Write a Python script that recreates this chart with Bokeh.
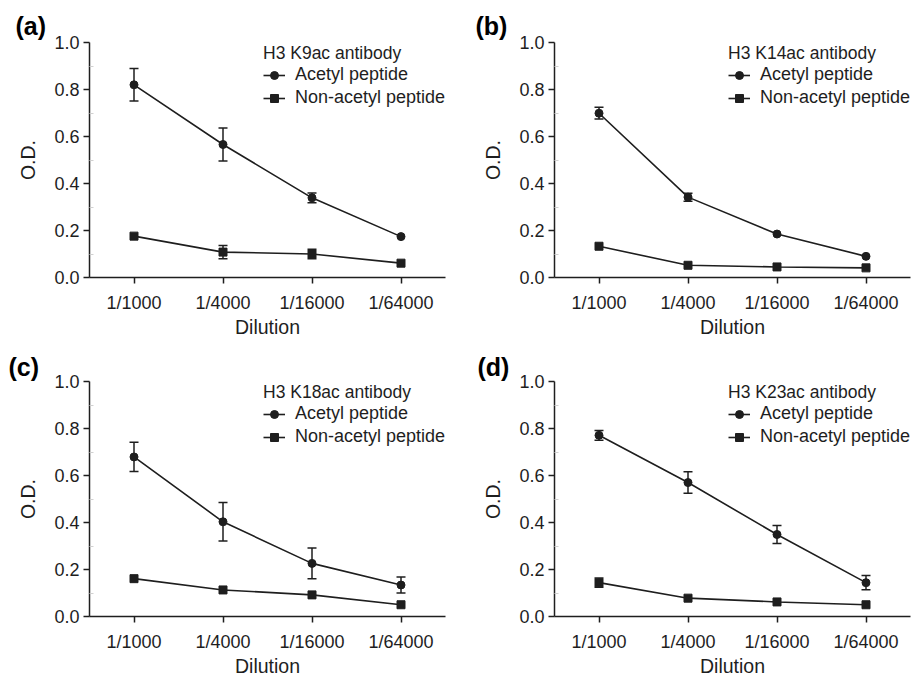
from bokeh.plotting import figure
from bokeh.layouts import column, row
from bokeh.models import Range1d, Whisker, TeeHead, ColumnDataSource, FixedTicker
from bokeh.embed import file_html
from bokeh.resources import INLINE

dilutions = ["1/1000", "1/4000", "1/16000", "1/64000"]
series_names = ["Acetyl peptide", "Non-acetyl peptide"]
y_ticks = [0.0, 0.2, 0.4, 0.6, 0.8, 1.0]

panel_letters = ["(a)", "(b)", "(c)", "(d)"]
antibodies = ["H3 K9ac antibody", "H3 K14ac antibody", "H3 K18ac antibody", "H3 K23ac antibody"]

acetyl_a = [0.820, 0.566, 0.339, 0.174]
acetyl_a_err = [0.069, 0.070, 0.021, 0.0]
nonacetyl_a = [0.176, 0.108, 0.100, 0.061]
nonacetyl_a_err = [0.0, 0.028, 0.020, 0.0]

acetyl_b = [0.699, 0.342, 0.185, 0.090]
acetyl_b_err = [0.025, 0.017, 0.0, 0.0]
nonacetyl_b = [0.133, 0.052, 0.045, 0.041]
nonacetyl_b_err = [0.0, 0.0, 0.0, 0.0]

acetyl_c = [0.679, 0.403, 0.226, 0.134]
acetyl_c_err = [0.062, 0.082, 0.065, 0.034]
nonacetyl_c = [0.161, 0.113, 0.092, 0.050]
nonacetyl_c_err = [0.0, 0.0, 0.0, 0.0]

acetyl_d = [0.771, 0.570, 0.349, 0.144]
acetyl_d_err = [0.021, 0.046, 0.038, 0.030]
nonacetyl_d = [0.144, 0.078, 0.062, 0.050]
nonacetyl_d_err = [0.020, 0.0, 0.0, 0.0]

INK = "#1e1e1e"
FONT = "Liberation Sans"


def make_panel(letter, title, acetyl, acetyl_err, non, non_err,
               width, height, bl, br, bt, bb, letter_offset, letter_standoff):
    p = figure(width=width, height=height, x_range=dilutions, y_range=Range1d(0, 1.0),
               output_backend="svg", toolbar_location=None,
               min_border_left=bl, min_border_right=br, min_border_top=bt, min_border_bottom=bb)
    p.outline_line_color = None
    p.xgrid.grid_line_color = None
    p.ygrid.grid_line_color = None
    p.background_fill_color = "white"
    p.border_fill_color = "white"

    p.title.text = letter
    p.title.align = "left"
    p.title.offset = letter_offset
    p.title.text_font = FONT
    p.title.text_font_size = "25px"
    p.title.text_font_style = "bold"
    p.title.text_color = "black"
    p.title.standoff = letter_standoff
    p.title.vertical_align = "bottom"

    for ax in (p.xaxis[0], p.yaxis[0]):
        ax.axis_line_color = INK
        ax.axis_line_width = 1.5
        ax.major_tick_line_color = INK
        ax.major_tick_line_width = 1.5
        ax.major_tick_out = 6
        ax.major_tick_in = 0
        ax.major_label_text_font = FONT
        ax.major_label_text_font_size = "18px"
        ax.major_label_text_color = INK
        ax.axis_label_text_font = FONT
        ax.axis_label_text_font_size = "19.5px"
        ax.axis_label_text_font_style = "normal"
        ax.axis_label_text_color = INK

    p.xaxis.axis_label = "Dilution"
    p.xaxis.major_label_standoff = 9
    p.xaxis.axis_label_standoff = 0
    p.yaxis.axis_label = "O.D."
    p.yaxis.ticker = FixedTicker(ticks=y_ticks, minor_ticks=[0.1, 0.3, 0.5, 0.7, 0.9])
    p.yaxis.major_label_overrides = {t: f"{t:.1f}" for t in y_ticks}
    p.yaxis.major_label_standoff = 4
    p.yaxis.axis_label_standoff = 12
    p.yaxis.minor_tick_in = 4
    p.yaxis.minor_tick_out = 0
    p.yaxis.minor_tick_line_color = "#d0d0d0"
    p.yaxis.minor_tick_line_width = 1

    for vals, errs, marker, name in ((acetyl, acetyl_err, "circle", series_names[0]),
                                     (non, non_err, "square", series_names[1])):
        xs = [d for d, e in zip(dilutions, errs) if e > 0]
        lo = [v - e for v, e in zip(vals, errs) if e > 0]
        hi = [v + e for v, e in zip(vals, errs) if e > 0]
        if xs:
            src = ColumnDataSource(dict(x=xs, lower=lo, upper=hi))
            w = Whisker(base="x", lower="lower", upper="upper", source=src,
                        line_color=INK, line_width=1.5,
                        upper_head=TeeHead(size=9, line_color=INK, line_width=1.5),
                        lower_head=TeeHead(size=9, line_color=INK, line_width=1.5))
            p.add_layout(w)
        p.line(dilutions, vals, line_color=INK, line_width=1.6, legend_label=name)
        p.scatter(dilutions, vals, marker=marker, size=8,
                  fill_color=INK, line_color=INK, legend_label=name)

    lg = p.legend[0]
    lg.title = title
    lg.title_text_font = FONT
    lg.title_text_font_size = "17.5px"
    lg.title_text_font_style = "normal"
    lg.title_text_color = INK
    lg.title_standoff = 0
    lg.label_text_font = FONT
    lg.label_text_font_size = "18px"
    lg.label_text_color = INK
    lg.location = (174, 169)
    lg.margin = 0
    lg.padding = 0
    lg.spacing = 2
    lg.glyph_width = 22
    lg.label_standoff = 10
    lg.border_line_color = None
    lg.background_fill_alpha = 0
    return p


pa = make_panel(panel_letters[0], antibodies[0], acetyl_a, acetyl_a_err, nonacetyl_a, nonacetyl_a_err,
                460, 340, 89, 15, 42, 63, -74, 5)
pb = make_panel(panel_letters[1], antibodies[1], acetyl_b, acetyl_b_err, nonacetyl_b, nonacetyl_b_err,
                460, 340, 94, 10, 42, 63, -79, 5)
pc = make_panel(panel_letters[2], antibodies[2], acetyl_c, acetyl_c_err, nonacetyl_c, nonacetyl_c_err,
                460, 339, 89, 15, 41, 62, -81, 2)
pd = make_panel(panel_letters[3], antibodies[3], acetyl_d, acetyl_d_err, nonacetyl_d, nonacetyl_d_err,
                460, 339, 94, 10, 41, 62, -77, 2)

layout = column(row(pa, pb), row(pc, pd))
open("out.html", "w").write(file_html(layout, INLINE))
